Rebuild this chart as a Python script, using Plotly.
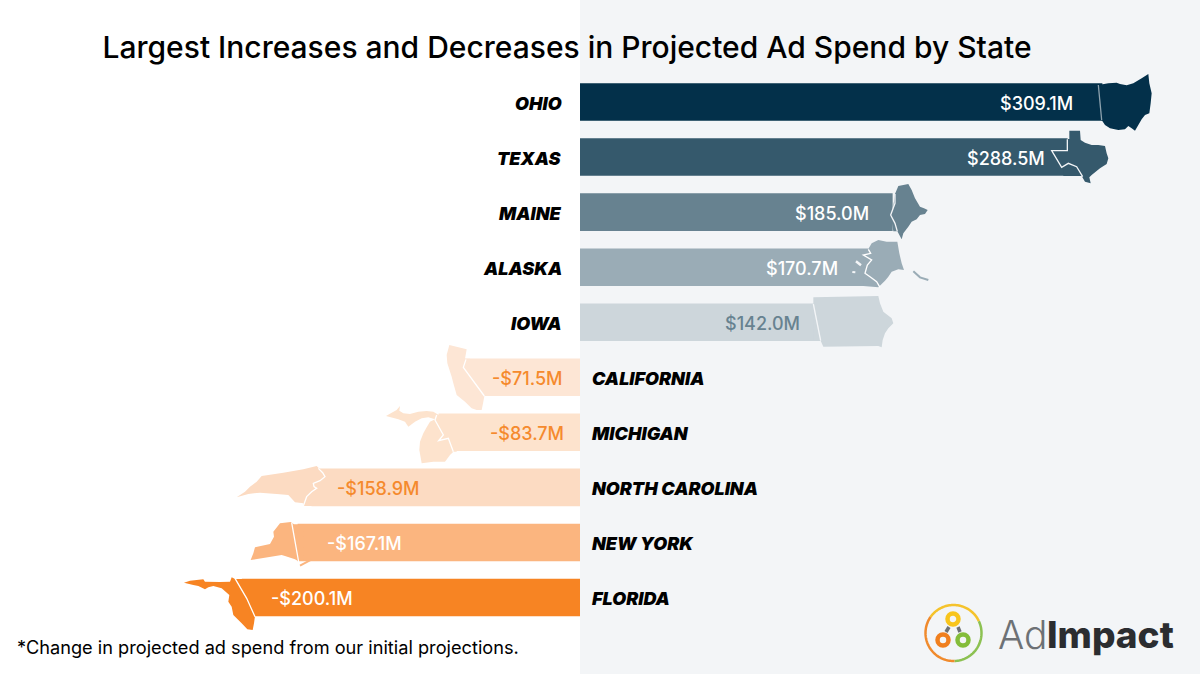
"""Largest increases and decreases in projected ad spend by state, AdImpact style."""
import numpy as np
import plotly.graph_objects as go

W, H = 1200, 674
PX_PER_M = 1.69
ZERO_PX = 580

states = ["OHIO", "TEXAS", "MAINE", "ALASKA", "IOWA",
          "CALIFORNIA", "MICHIGAN", "NORTH CAROLINA", "NEW YORK", "FLORIDA"]
spend = [309.1, 288.5, 185.0, 170.7, 142.0, -71.5, -83.7, -158.9, -167.1, -200.1]
spend_labels = ["$309.1M", "$288.5M", "$185.0M", "$170.7M", "$142.0M",
                "-$71.5M", "-$83.7M", "-$158.9M", "-$167.1M", "-$200.1M"]
bar_colors = ["#03304a", "#35596c", "#678290", "#9aacb6", "#cdd6db",
              "#fde6d5", "#fde3cd", "#fcdbc2", "#fbb57f", "#f78423"]
label_colors = ["#ffffff", "#ffffff", "#ffffff", "#ffffff", "#678290",
                "#f58a2d", "#f58a2d", "#f58a2d", "#ffffff", "#ffffff"]
# pixel gap between the end of the bar and the near edge of its value label
label_gaps = [27, 21, 22, 28, 18, 31, 49, 24, 27, 27]


# ── state outlines (zoomed crop coordinates) ─────────────────────────────
def upper(pts):
    return [(780 + x / 3, 60 + y / 3) for x, y in pts]


def lower(pts):
    return [(170 + x / 3, 340 + y / 3) for x, y in pts]


OUTLINES = {
    "OHIO": upper([(955, 75), (985, 70), (1010, 68), (1020, 72), (1040, 76), (1060, 70), (1085, 55),
                   (1105, 42), (1108, 70), (1115, 100), (1112, 130), (1108, 160), (1095, 165),
                   (1085, 178), (1075, 195), (1065, 212), (1055, 205), (1045, 198), (1035, 208),
                   (1015, 210), (990, 205), (975, 195), (965, 180)]),
    "TEXAS": upper([(868, 212), (900, 212), (902, 240), (915, 248), (935, 255), (955, 255), (975, 258),
                    (980, 280), (985, 295), (980, 312), (960, 325), (935, 345), (928, 352), (932, 370),
                    (915, 365), (905, 348), (850, 348), (850, 322), (815, 272), (850, 272),
                    (850, 237), (868, 237)]),
    "MAINE": upper([(345, 402), (355, 378), (385, 372), (395, 390), (405, 415), (420, 440), (432, 445),
                    (443, 450), (435, 462), (420, 465), (410, 478), (395, 485), (385, 500), (370, 520),
                    (365, 538), (352, 514), (340, 514), (332, 465), (340, 440)]),
    "ALASKA": upper([(265, 567), (275, 550), (295, 540), (320, 545), (352, 545), (358, 580), (365, 610),
                     (372, 630), (355, 628), (335, 635), (325, 650), (315, 662), (305, 672),
                     (295, 682), (250, 678), (250, 567)]),
    "IOWA": upper([(100, 712), (295, 708), (300, 730), (310, 755), (335, 775), (340, 790), (325, 805),
                   (315, 820), (308, 840), (305, 862), (295, 858), (130, 860), (122, 842), (100, 842)]),
    "CALIFORNIA": lower([(838, 15), (890, 28), (885, 56), (900, 56), (900, 167), (943, 168), (940, 185),
                         (935, 210), (920, 210), (905, 205), (885, 185), (860, 165), (850, 130),
                         (845, 110), (832, 70), (830, 45)]),
    "MICHIGAN": lower([(648, 228), (665, 218), (680, 210), (690, 198), (688, 212), (700, 220), (720, 222),
                       (745, 215), (770, 213), (790, 215), (805, 224), (860, 224), (860, 335), (850, 335),
                       (840, 345), (825, 365), (790, 365), (755, 370), (748, 330), (750, 305), (760, 280),
                       (770, 262), (780, 245), (795, 238), (775, 232), (755, 235), (735, 245),
                       (715, 260), (705, 245), (685, 238)]),
    "NORTH CAROLINA": lower([(200, 472), (225, 455), (240, 440), (260, 425), (275, 408), (340, 398),
                             (400, 388), (440, 378), (452, 390), (480, 390), (480, 498), (400, 498),
                             (400, 490), (375, 487), (355, 465), (320, 462), (290, 460), (270, 458),
                             (235, 462)]),
    "NEW YORK": lower([(255, 622), (300, 612), (312, 590), (310, 575), (330, 550), (362, 546), (372, 553),
                       (400, 553), (400, 663), (384, 663), (375, 658), (345, 648), (335, 645),
                       (242, 660), (250, 640)]),
    "FLORIDA": lower([(42, 728), (60, 722), (100, 718), (105, 725), (150, 726), (180, 725), (185, 712),
                      (195, 717), (240, 717), (240, 828), (255, 828), (252, 850), (248, 870), (232, 868),
                      (215, 850), (190, 825), (185, 800), (175, 785), (178, 765), (155, 745), (130, 738),
                      (115, 742), (105, 748), (85, 738), (70, 735)]),
}
# thin line where each state meets its bar
SEAMS = {
    "OHIO": upper([(955, 75), (965, 180)]),
    "TEXAS": upper([(862, 238), (862, 272), (815, 272), (845, 322), (865, 310), (890, 320), (908, 350)]),
    "MAINE": upper([(345, 402), (345, 430), (332, 465), (345, 490), (352, 514)]),
    "ALASKA": upper([(265, 568), (272, 580), (250, 585), (275, 600), (262, 615), (255, 640), (270, 650),
                     (290, 665), (300, 682)]),
    "IOWA": upper([(100, 732), (122, 842)]),
    "CALIFORNIA": lower([(888, 58), (880, 82), (943, 168)]),
    "MICHIGAN": lower([(800, 225), (795, 240), (820, 285), (806, 302), (835, 295), (850, 335)]),
    "NORTH CAROLINA": lower([(445, 385), (458, 398), (465, 410), (450, 422), (430, 430), (432, 440),
                             (440, 445), (425, 455), (410, 470), (400, 498)]),
    "NEW YORK": lower([(365, 548), (385, 660), (388, 680)]),
    "FLORIDA": lower([(195, 715), (230, 775), (255, 830)]),
}
SEAM_COLORS = {"OHIO": "#8fa3af", "TEXAS": "#f3f5f7", "MAINE": "#f3f5f7", "ALASKA": "#ffffff",
               "IOWA": "#f3f5f7", "CALIFORNIA": "#ffffff", "MICHIGAN": "#ffffff",
               "NORTH CAROLINA": "#ffffff", "NEW YORK": "#ffffff", "FLORIDA": "#ffffff"}


def to_path(pts, close=True):
    d = "M" + " L".join(f"{x / W:.5f},{1 - y / H:.5f}" for x, y in pts)
    return d + " Z" if close else d


def arc(cx, cy, r, a0, a1):
    t = np.radians(np.linspace(a0, a1, 50))
    return list(zip(cx + r * np.cos(t), cy - r * np.sin(t)))


def line_shape(pts, color, width):
    return dict(type="path", xref="paper", yref="paper", path=to_path(pts, close=False),
                line=dict(color=color, width=width))


def ring(cx, cy, r, color):
    return dict(type="circle", xref="paper", yref="paper",
                x0=(cx - r) / W, x1=(cx + r) / W, y0=1 - (cy + r) / H, y1=1 - (cy - r) / H,
                line=dict(color=color, width=4.5))


fig = go.Figure(go.Bar(
    x=spend, y=states, orientation="h",
    marker=dict(color=bar_colors, line=dict(width=0)),
    hoverinfo="skip",
))

shapes = [dict(type="rect", layer="below", xref="x", yref="paper", x0=0, x1=(W - ZERO_PX) / PX_PER_M,
               y0=0, y1=1, fillcolor="#f3f5f7", line=dict(width=0))]
for state, color in zip(states, bar_colors):
    shapes.append(dict(type="path", xref="paper", yref="paper", path=to_path(OUTLINES[state]),
                       fillcolor=color, line=dict(width=0)))
    shapes.append(line_shape(SEAMS[state], SEAM_COLORS[state], 1.3))

# alaska's stray islands and panhandle, long island
shapes.append(line_shape(upper([(400, 634), (420, 652), (445, 660)]), "#9aacb6", 2))
shapes.append(line_shape(upper([(228, 604), (243, 616)]), "#f3f5f7", 2.5))
shapes.append(line_shape(upper([(217, 636), (226, 637)]), "#f3f5f7", 2))
shapes.append(line_shape(lower([(390, 677), (424, 659)]), "#fbb57f", 2))

# logo
shapes += [
    line_shape(arc(953.5, 633, 28, 25, 145), "#f5c32c", 2.5),
    line_shape(arc(953.5, 633, 28, -88, 25), "#8cc152", 2.5),
    line_shape(arc(953.5, 633, 28, 145, 272), "#f08a2c", 2.5),
    line_shape([(949, 627), (946, 632)], "#6d7175", 3.5),
    line_shape([(958, 627), (960, 632)], "#6d7175", 3.5),
    ring(953, 619, 5.5, "#f8c51c"),
    ring(943, 640, 5.5, "#f07f1e"),
    ring(963, 640, 5.5, "#84bd3a"),
]

annotations = []
for state, val, text, tcolor, gap in zip(states, spend, spend_labels, label_colors, label_gaps):
    pos = val > 0
    # state name sits on the far side of the zero line
    annotations.append(dict(
        x=0, y=state, xref="x", yref="y", text=state, showarrow=False,
        xanchor="right" if pos else "left", xshift=-16 if pos else 10, yshift=-1,
        font=dict(family="Inter", size=18, color="#000000", weight=900, style="italic"),
    ))
    annotations.append(dict(
        x=val, y=state, xref="x", yref="y", text=text, showarrow=False,
        xanchor="right" if pos else "left", xshift=-gap if pos else gap, yshift=-1,
        font=dict(family="Inter", size=18, color=tcolor, weight=500),
    ))

annotations += [
    dict(x=15 / W, y=1 - 647 / H, xref="paper", yref="paper", xanchor="left", yanchor="middle",
         showarrow=False, text="*Change in projected ad spend from our initial projections.",
         font=dict(family="Inter", size=18.2, color="#000000")),
    dict(x=996 / W, y=1 - 634 / H, xref="paper", yref="paper", xanchor="left", yanchor="middle",
         showarrow=False, text="Ad", font=dict(family="Inter", size=39, color="#6d7175", weight=300)),
    dict(x=1176 / W, y=1 - 634 / H, xref="paper", yref="paper", xanchor="right", yanchor="middle",
         showarrow=False, text="Impact", font=dict(family="Inter", size=37, color="#2b2d30", weight=800)),
]

fig.update_layout(
    width=W, height=H,
    margin=dict(l=0, r=0, t=0, b=0),
    paper_bgcolor="#ffffff", plot_bgcolor="rgba(0,0,0,0)",
    bargap=0.318, showlegend=False,
    title=dict(text="Largest Increases and Decreases in Projected Ad Spend by State",
               x=567 / W, xanchor="center", y=1 - 47 / H, yanchor="middle",
               font=dict(family="Inter", size=30, color="#000000", weight=500)),
    xaxis=dict(range=[-ZERO_PX / PX_PER_M, (W - ZERO_PX) / PX_PER_M], visible=False, fixedrange=True),
    yaxis=dict(range=[10.39, -1.853], visible=False, fixedrange=True,
               categoryorder="array", categoryarray=states),
    shapes=shapes, annotations=annotations,
)

fig.write_html("out.html", config={"displayModeBar": False},
               post_script="document.body.style.margin='0';")
